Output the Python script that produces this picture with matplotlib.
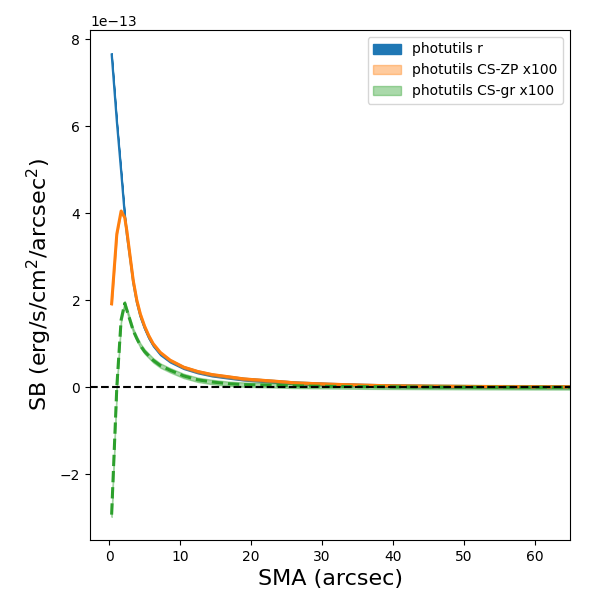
import numpy as np
import matplotlib
matplotlib.use('Agg')
import matplotlib.pyplot as plt

# semi-major axis (arcsec)
sma = np.array([0.35, 1.08, 1.69, 2.2, 2.5, 3.0, 3.4, 3.9, 4.4, 5.0, 5.6, 6.2, 7.2,
                8.6, 10.5, 12.5, 14.5, 16.8, 19, 21.5, 24, 26.2, 31, 36, 40, 46, 52,
                58, 66])
# surface brightness, units of 1e-13 erg/s/cm^2/arcsec^2
sb_r = np.array([7.65, 6.1, 4.95, 3.95, 3.5, 2.9, 2.4, 1.95, 1.63, 1.36, 1.14, 0.97,
                 0.77, 0.6, 0.45, 0.35, 0.28, 0.23, 0.185, 0.155, 0.125, 0.1, 0.068,
                 0.045, 0.032, 0.022, 0.016, 0.012, 0.009])
sb_zp = np.array([1.92, 3.52, 4.05, 3.9, 3.59, 2.95, 2.45, 2.0, 1.68, 1.4, 1.18, 1.0,
                  0.8, 0.62, 0.46, 0.36, 0.29, 0.24, 0.19, 0.16, 0.13, 0.1, 0.07,
                  0.046, 0.032, 0.023, 0.017, 0.012, 0.009])
sb_gr = np.array([-2.93, 0.0, 1.55, 1.93, 1.77, 1.51, 1.30, 1.12, 0.96, 0.82, 0.72,
                  0.62, 0.5, 0.39, 0.26, 0.17, 0.12, 0.08, 0.06, 0.05, 0.04, 0.03,
                  0.02, 0.012, 0.008, 0.004, 0.0, -0.003, -0.005])
err_r = np.full(len(sma), 0.03)
err_zp = np.full(len(sma), 0.03)
err_gr = np.full(len(sma), 0.05)

scale = 1e-13

fig = plt.figure(figsize=(6, 6), dpi=100)
ax = fig.add_axes([0.15, 0.10, 0.80, 0.85])

ax.fill_between(sma, (sb_r - err_r) * scale, (sb_r + err_r) * scale,
                color='C0', alpha=1.0, label='photutils r')
ax.fill_between(sma, (sb_zp - err_zp) * scale, (sb_zp + err_zp) * scale,
                color='C1', alpha=0.4, label='photutils CS-ZP x100')
ax.fill_between(sma, (sb_gr - err_gr) * scale, (sb_gr + err_gr) * scale,
                color='C2', alpha=0.4, label='photutils CS-gr x100')

ax.plot(sma, sb_r * scale, color='C0', lw=1.5)
ax.plot(sma, sb_zp * scale, color='C1', lw=2.2)
ax.plot(sma, sb_gr * scale, color='C2', lw=2.2, ls='--')

ax.axhline(0, color='k', ls='--', lw=1.5)

ax.set_xlim(-2.7, 65)
ax.set_xlabel('SMA (arcsec)', fontsize=16)
ax.set_ylabel('SB (erg/s/cm$^2$/arcsec$^2$)', fontsize=16)
ax.legend(loc='upper right')

fig.savefig('out.png', dpi=100)
